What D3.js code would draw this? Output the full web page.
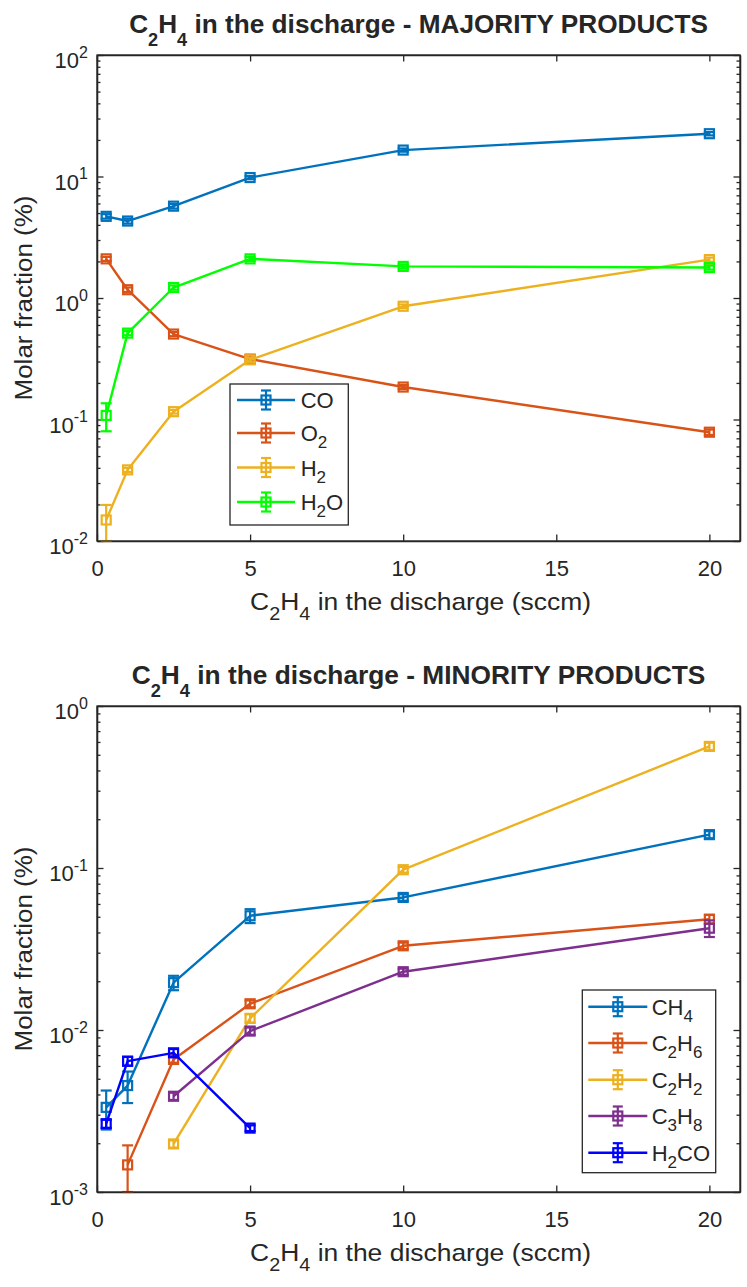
<!DOCTYPE html>
<html><head><meta charset="utf-8">
<script src="https://cdn.jsdelivr.net/npm/d3@7"></script>
<style>
body{margin:0;background:#fff}
svg{display:block}
text{font-family:"Liberation Sans",Arial,Helvetica,sans-serif;fill:#262626;white-space:pre}
</style>
</head><body>
<svg id="c" width="747" height="1287"></svg>
<script>
// ---------- DATA ----------
const xTicks = [0, 5, 10, 15, 20];
const xTickLabels = ["0", "5", "10", "15", "20"];

// Majority products (top)
const majX = [0.3, 1, 2.5, 5, 10, 20];
const coVals  = [4.7, 4.3, 5.7, 9.8, 16.5, 22.5];
const coErr   = [0.2, 0.2, 0.25, 0.3, 0.5, 0.7];
const o2Vals  = [2.1, 1.17, 0.505, 0.314, 0.185, 0.0786];
const o2Err   = [0.08, 0.05, 0.02, 0.022, 0.007, 0.004];
const h2Vals  = [0.0149, 0.0385, 0.116, 0.31, 0.855, 2.07];
const h2Err   = [0.0049, 0.0015, 0.004, 0.012, 0.03, 0.08];
const h2oVals = [0.108, 0.514, 1.22, 2.10, 1.82, 1.78];
const h2oErr  = [0.028, 0.02, 0.05, 0.08, 0.07, 0.07];
const majNames = ["CO", "O_2", "H_2", "H_2O"];
const majTicks = [0.01, 0.1, 1, 10, 100];
const majTickExp = ["-2", "-1", "0", "1", "2"];

// Minority products (bottom)
const ch4X = [0.3, 1, 2.5, 5, 10, 20];
const ch4Vals = [0.00333, 0.00454, 0.0196, 0.0507, 0.0658, 0.1607];
const ch4Err  = [0.0009, 0.001, 0.002, 0.005, 0.003, 0.008];
const c2h6X = [1, 2.5, 5, 10, 20];
const c2h6Vals = [0.00147, 0.00658, 0.01452, 0.0331, 0.0483];
const c2h6Err  = [0.00047, 0.0003, 0.0007, 0.0015, 0.003];
const c2h2X = [2.5, 5, 10, 20];
const c2h2Vals = [0.00198, 0.0118, 0.0976, 0.563];
const c2h2Err  = [0.0001, 0.0007, 0.004, 0.03];
const c3h8X = [2.5, 5, 10, 20];
const c3h8Vals = [0.0039, 0.00985, 0.0229, 0.0425];
const c3h8Err  = [0.0002, 0.0005, 0.001, 0.005];
const h2coX = [0.3, 1, 2.5, 5];
const h2coVals = [0.00264, 0.00642, 0.00723, 0.00248];
const h2coErr  = [0.00015, 0.0004, 0.0004, 0.0001];
const minNames = ["CH_4", "C_2H_6", "C_2H_2", "C_3H_8", "H_2CO"];
const minTicks = [0.001, 0.01, 0.1, 1];
const minTickExp = ["-3", "-2", "-1", "0"];

const colors = {blue:"#0072BD", orange:"#D95319", yellow:"#EDB120", green:"#00FF00", purple:"#7E2F8E", pure:"#0000FF"};

// ---------- HELPERS ----------
const svg = d3.select("#c");
const AX = "#262626";
const LW = 2.4, MW = 2.2;
const x = d3.scaleLinear().domain([0, 21]).range([97, 740]);

function zip(xs, ys, es){ return xs.map((v,i)=>({x:v, y:ys[i], e:es[i]})); }

function rich(textSel, str, subSize, subDy){
  const parts = str.split(/_(\d)/);
  let shifted = false;
  parts.forEach((p,i)=>{
    if(p === "") return;
    if(i % 2 === 1){
      textSel.append("tspan").attr("font-size", subSize).attr("dy", subDy).text(p);
      shifted = true;
    } else {
      const t = textSel.append("tspan").text(p);
      if(shifted){ t.attr("dy", -subDy); shifted = false; }
    }
  });
}

function fittedText(parent, str, opts){
  const g = parent.append("g");
  const t = g.append("text").attr("text-anchor","middle")
    .attr("font-size", opts.size).attr("font-weight", opts.weight||"normal");
  rich(t, str, opts.subSize, opts.subDy);
  const w = t.node().getComputedTextLength();
  const s = opts.width / w;
  g.attr("transform", `translate(${opts.cx},${opts.cy})` + (opts.rotate?` rotate(${opts.rotate})`:"") + ` scale(${s},1)`);
  return g;
}

function panel(o){
  const y = d3.scaleLog().domain(o.domain).range([o.bottom, o.top]);
  const root = svg.append("g");
  const clipId = "clip" + o.id;
  svg.append("clipPath").attr("id", clipId).append("rect")
    .attr("x", 95).attr("y", o.top - 2).attr("width", 647).attr("height", o.bottom - o.top + 4);

  const [lo, hi] = o.domain;
  const minors = [];
  for(let d = Math.round(Math.log10(lo)); d < Math.round(Math.log10(hi)); d++){
    for(let k = 2; k <= 9; k++) minors.push(k * Math.pow(10, d));
  }
  const ax = root.append("g").attr("class","axes");
  const styleAxis = g => { g.selectAll("path,line").attr("stroke", AX).attr("stroke-width", 1.3); };

  ax.append("g").attr("transform", `translate(0,${o.bottom})`)
    .call(d3.axisBottom(x).tickValues(xTicks).tickFormat((d,i)=>xTickLabels[i]).tickSize(-6.5).tickSizeOuter(0).tickPadding(19))
    .call(styleAxis)
    .call(g => g.selectAll("text").attr("font-size", 22).attr("fill", AX).attr("font-family", null));
  ax.append("g").attr("transform", `translate(0,${o.top})`)
    .call(d3.axisTop(x).tickValues(xTicks).tickFormat("").tickSize(-6.5).tickSizeOuter(0))
    .call(styleAxis);
  ax.append("g").attr("transform", `translate(${x.range()[0]},0)`)
    .call(d3.axisLeft(y).tickValues(minors).tickFormat("").tickSize(-3.5).tickSizeOuter(0))
    .call(styleAxis);
  ax.append("g").attr("transform", `translate(${x.range()[1]},0)`)
    .call(d3.axisRight(y).tickValues(minors).tickFormat("").tickSize(-3.5).tickSizeOuter(0))
    .call(styleAxis);
  ax.append("g").attr("transform", `translate(${x.range()[1]},0)`)
    .call(d3.axisRight(y).tickValues(o.ticks).tickFormat("").tickSize(-6.5).tickSizeOuter(0))
    .call(styleAxis);
  const left = ax.append("g").attr("transform", `translate(${x.range()[0]},0)`)
    .call(d3.axisLeft(y).tickValues(o.ticks).tickFormat("").tickSize(-6.5).tickSizeOuter(0).tickPadding(9))
    .call(styleAxis);
  left.selectAll(".tick text").each(function(d,i){
    const t = d3.select(this).attr("dy", null).attr("y", 12.5).attr("font-size", 22)
      .attr("fill", AX).attr("font-family", null).attr("text-anchor","end");
    t.append("tspan").text("10");
    t.append("tspan").attr("font-size", 16).attr("dy", -10.5).text(o.tickExp[i]);
  });

  // series
  const dataG = root.append("g");
  const line = d3.line().x(d=>x(d.x)).y(d=>y(d.y));
  o.series.forEach(s=>{
    const g = dataG.append("g");
    const cg = g.append("g").attr("clip-path", `url(#${clipId})`);
    cg.append("path").datum(s.pts).attr("d", line).attr("fill","none")
      .attr("stroke", s.color).attr("stroke-width", LW).attr("stroke-linejoin","round");
    const eb = cg.selectAll(".eb").data(s.pts).enter().append("g");
    eb.append("line").attr("x1", d=>x(d.x)).attr("x2", d=>x(d.x))
      .attr("y1", d=>y(Math.max(d.y - d.e, lo*0.5))).attr("y2", d=>y(d.y + d.e))
      .attr("stroke", s.color).attr("stroke-width", MW);
    [-1, 1].forEach(sg=>{
      eb.filter(d => (d.y + sg*d.e) >= lo*0.999)
        .append("line").attr("x1", d=>x(d.x)-5.5).attr("x2", d=>x(d.x)+5.5)
        .attr("y1", d=>y(d.y + sg*d.e)).attr("y2", d=>y(d.y + sg*d.e))
        .attr("stroke", s.color).attr("stroke-width", MW);
    });
    g.selectAll(".mk").data(s.pts).enter().append("rect")
      .attr("x", d=>x(d.x)-4.5).attr("y", d=>y(d.y)-4.5).attr("width", 9).attr("height", 9)
      .attr("fill","none").attr("stroke", s.color).attr("stroke-width", MW);
  });

  root.append("rect").attr("x", x.range()[0]).attr("y", o.top)
    .attr("width", x.range()[1]-x.range()[0]).attr("height", o.bottom-o.top)
    .attr("fill","none").attr("stroke", AX).attr("stroke-width", 1.3);

  // legend
  const L = o.legend;
  const lg = root.append("g");
  lg.append("rect").attr("x", L.x).attr("y", L.y).attr("width", L.w).attr("height", L.h)
    .attr("fill","#fff").attr("stroke", AX).attr("stroke-width", 1.3);
  o.series.forEach((s,i)=>{
    const yy = L.rows[i];
    const mx = (L.x0 + L.x1)/2;
    lg.append("line").attr("x1", L.x0).attr("x2", L.x1).attr("y1", yy).attr("y2", yy)
      .attr("stroke", s.color).attr("stroke-width", LW);
    lg.append("line").attr("x1", mx).attr("x2", mx).attr("y1", yy-9.5).attr("y2", yy+9.5)
      .attr("stroke", s.color).attr("stroke-width", MW);
    [-9.5, 9.5].forEach(dy=>lg.append("line").attr("x1", mx-5).attr("x2", mx+5)
      .attr("y1", yy+dy).attr("y2", yy+dy).attr("stroke", s.color).attr("stroke-width", MW));
    lg.append("rect").attr("x", mx-4.5).attr("y", yy-4.5).attr("width", 9).attr("height", 9)
      .attr("fill","none").attr("stroke", s.color).attr("stroke-width", MW);
    const t = lg.append("text").attr("x", L.tx).attr("y", yy+8).attr("font-size", 22).attr("fill", "#000");
    rich(t, s.name, 17, 7);
  });

  const cx = (x.range()[0] + x.range()[1]) / 2;
  fittedText(svg, o.title, {size:26, weight:"bold", subSize:18, subDy:13, width:o.titleW, cx:cx, cy:o.top - 21.7});
  fittedText(svg, "C_2H_4 in the discharge (sccm)", {size:24, subSize:18, subDy:9.5, width:341, cx:420.5, cy:o.bottom + 69});
  fittedText(svg, "Molar fraction (%)", {size:24, width:205, cx:32, cy:(o.top+o.bottom)/2, rotate:-90});
}

// ---------- BUILD ----------
panel({
  id:"top", top:55, bottom:541, domain:[0.01, 100], ticks:majTicks, tickExp:majTickExp,
  title:"C_2H_4 in the discharge - MAJORITY PRODUCTS", titleW:579,
  series:[
    {name:majNames[0], color:colors.blue,   pts:zip(majX, coVals, coErr)},
    {name:majNames[1], color:colors.orange, pts:zip(majX, o2Vals, o2Err)},
    {name:majNames[2], color:colors.yellow, pts:zip(majX, h2Vals, h2Err)},
    {name:majNames[3], color:colors.green,  pts:zip(majX, h2oVals, h2oErr)}
  ],
  legend:{x:230, y:384, w:118.3, h:141, x0:237, x1:295, tx:300.7, rows:[400, 433, 467.5, 502]}
});

panel({
  id:"bot", top:706, bottom:1192, domain:[0.001, 1], ticks:minTicks, tickExp:minTickExp,
  title:"C_2H_4 in the discharge - MINORITY PRODUCTS", titleW:574,
  series:[
    {name:minNames[0], color:colors.blue,   pts:zip(ch4X, ch4Vals, ch4Err)},
    {name:minNames[1], color:colors.orange, pts:zip(c2h6X, c2h6Vals, c2h6Err)},
    {name:minNames[2], color:colors.yellow, pts:zip(c2h2X, c2h2Vals, c2h2Err)},
    {name:minNames[3], color:colors.purple, pts:zip(c3h8X, c3h8Vals, c3h8Err)},
    {name:minNames[4], color:colors.pure,   pts:zip(h2coX, h2coVals, h2coErr)}
  ],
  legend:{x:582.3, y:990, w:133.4, h:182.7, x0:588.3, x1:647.3, tx:651.7, rows:[1006.7, 1043, 1079.7, 1116, 1152.7]}
});
</script>
</body></html>
